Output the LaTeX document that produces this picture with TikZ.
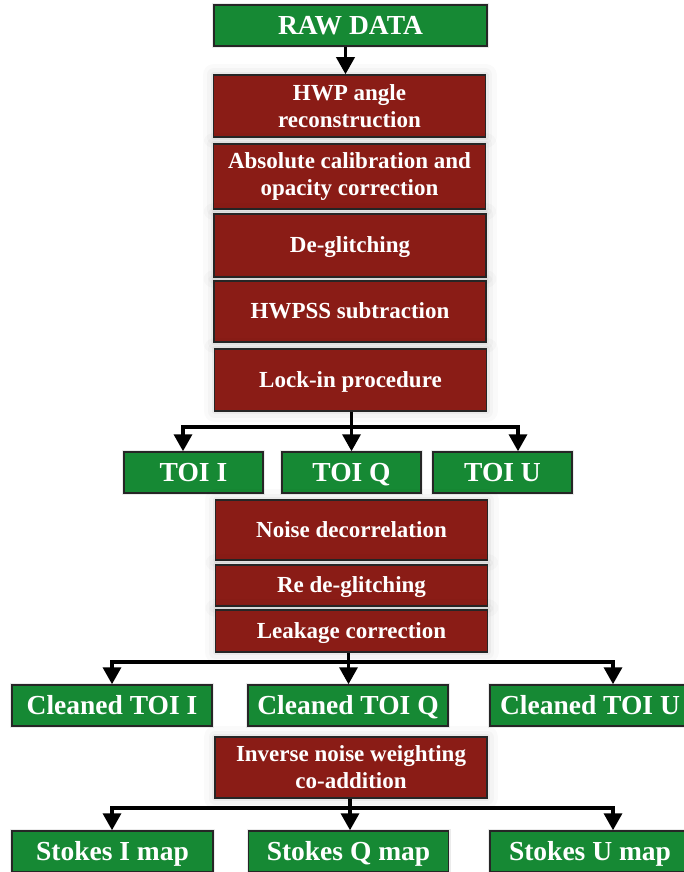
\documentclass[tikz,border=0pt]{standalone}
\usepackage{fontspec}
\setmainfont{Liberation Serif}
\usepackage{tikz}
\usetikzlibrary{arrows.meta,positioning}

\definecolor{procred}{RGB}{138,28,22}
\definecolor{datagreen}{RGB}{22,137,52}

\begin{document}
\begin{tikzpicture}[
  x=1pt, y=-1pt, line join=miter,
  box/.style={rectangle, draw=black!85, line width=1.5pt, inner sep=0pt,
    text=white, align=center},
  oneline/.style={text height=15.2pt, text depth=0.3pt},
  redbox/.style={box, fill=procred, minimum width=272pt,
    font=\bfseries\fontsize{23}{27}\selectfont,
    preaction={draw=black, line width=22pt, opacity=0.018, line join=round},
    preaction={draw=black, line width=13pt, opacity=0.025, line join=round},
    preaction={draw=black, line width=6pt, opacity=0.04, line join=round}},
  greenbox/.style={box, fill=datagreen, minimum height=41pt,
    text height=18.2pt, text depth=0.3pt,
    font=\bfseries\fontsize{27.5}{30}\selectfont,
    preaction={draw=black, line width=4pt, opacity=0.08}},
  link/.style={line width=3.5pt},
  arr/.style={link, -{Triangle[width=18pt, length=17pt]}},
]
\useasboundingbox (0,0) rectangle (683,872);

% pipeline
\node[greenbox, minimum width=273pt] (raw) at (350.5,25.5) {RAW DATA};
\node[redbox, minimum height=62pt] (hwp) at (349.5,106) {HWP angle\\reconstruction};
\node[redbox, minimum height=65pt] (abscal) at (349.5,176.5) {Absolute calibration and\\opacity correction};
\node[redbox, oneline, minimum height=63pt] (deglitch) at (350,245.5) {De-glitching};
\node[redbox, oneline, minimum height=61pt] (hwpss) at (350,311.5) {HWPSS subtraction};
\node[redbox, oneline, minimum height=62pt] (lockin) at (350.5,380) {Lock-in procedure};

\node[greenbox, minimum width=139pt] (toiI) at (193.5,472.5) {TOI I};
\node[greenbox, minimum width=139pt] (toiQ) at (351.5,472.5) {TOI Q};
\node[greenbox, minimum width=139pt] (toiU) at (502.5,472.5) {TOI U};

\node[redbox, oneline, minimum height=60pt] (noise) at (351.5,530) {Noise decorrelation};
\node[redbox, oneline, minimum height=41pt] (redeglitch) at (351.5,585.5) {Re de-glitching};
\node[redbox, oneline, minimum height=42pt] (leakage) at (351.5,631) {Leakage correction};

\node[greenbox, minimum width=200pt] (cleanI) at (112,705.5) {Cleaned TOI I};
\node[greenbox, minimum width=200pt] (cleanQ) at (348,705.5) {Cleaned TOI Q};
\node[greenbox, minimum width=200pt] (cleanU) at (590,705.5) {Cleaned TOI U};

\node[redbox, minimum height=61pt] (coadd) at (351,767.5) {Inverse noise weighting\\co-addition};

\node[greenbox, minimum width=201pt] (stokesI) at (112.5,851.5) {Stokes I map};
\node[greenbox, minimum width=200pt] (stokesQ) at (348.5,851.5) {Stokes Q map};
\node[greenbox, minimum width=200pt] (stokesU) at (590,851.5) {Stokes U map};

% arrows
\draw[arr] ([xshift=-5pt]raw.south) -- ([xshift=-5pt]raw.south |- hwp.north);

\coordinate (fork1) at (351.5,427);
\draw[link] (fork1 |- lockin.south) -- (fork1);
\draw[arr] (fork1) -| ([xshift=-10.5pt]toiI.north);
\draw[arr] (fork1) -- (fork1 |- toiQ.north);
\draw[arr] (fork1) -| ([xshift=15.5pt]toiU.north);

\coordinate (fork2) at (348.5,662);
\draw[link] (fork2 |- leakage.south) -- (fork2);
\draw[arr] (fork2) -| (cleanI.north);
\draw[arr] (fork2) -- (fork2 |- cleanQ.north);
\draw[arr] (fork2) -| ([xshift=23pt]cleanU.north);

\coordinate (fork3) at (350,808);
\draw[link] (fork3 |- coadd.south) -- (fork3);
\draw[arr] (fork3) -| ([xshift=-0.5pt]stokesI.north);
\draw[arr] (fork3) -- (fork3 |- stokesQ.north);
\draw[arr] (fork3) -| ([xshift=23pt]stokesU.north);
\end{tikzpicture}
\end{document}
